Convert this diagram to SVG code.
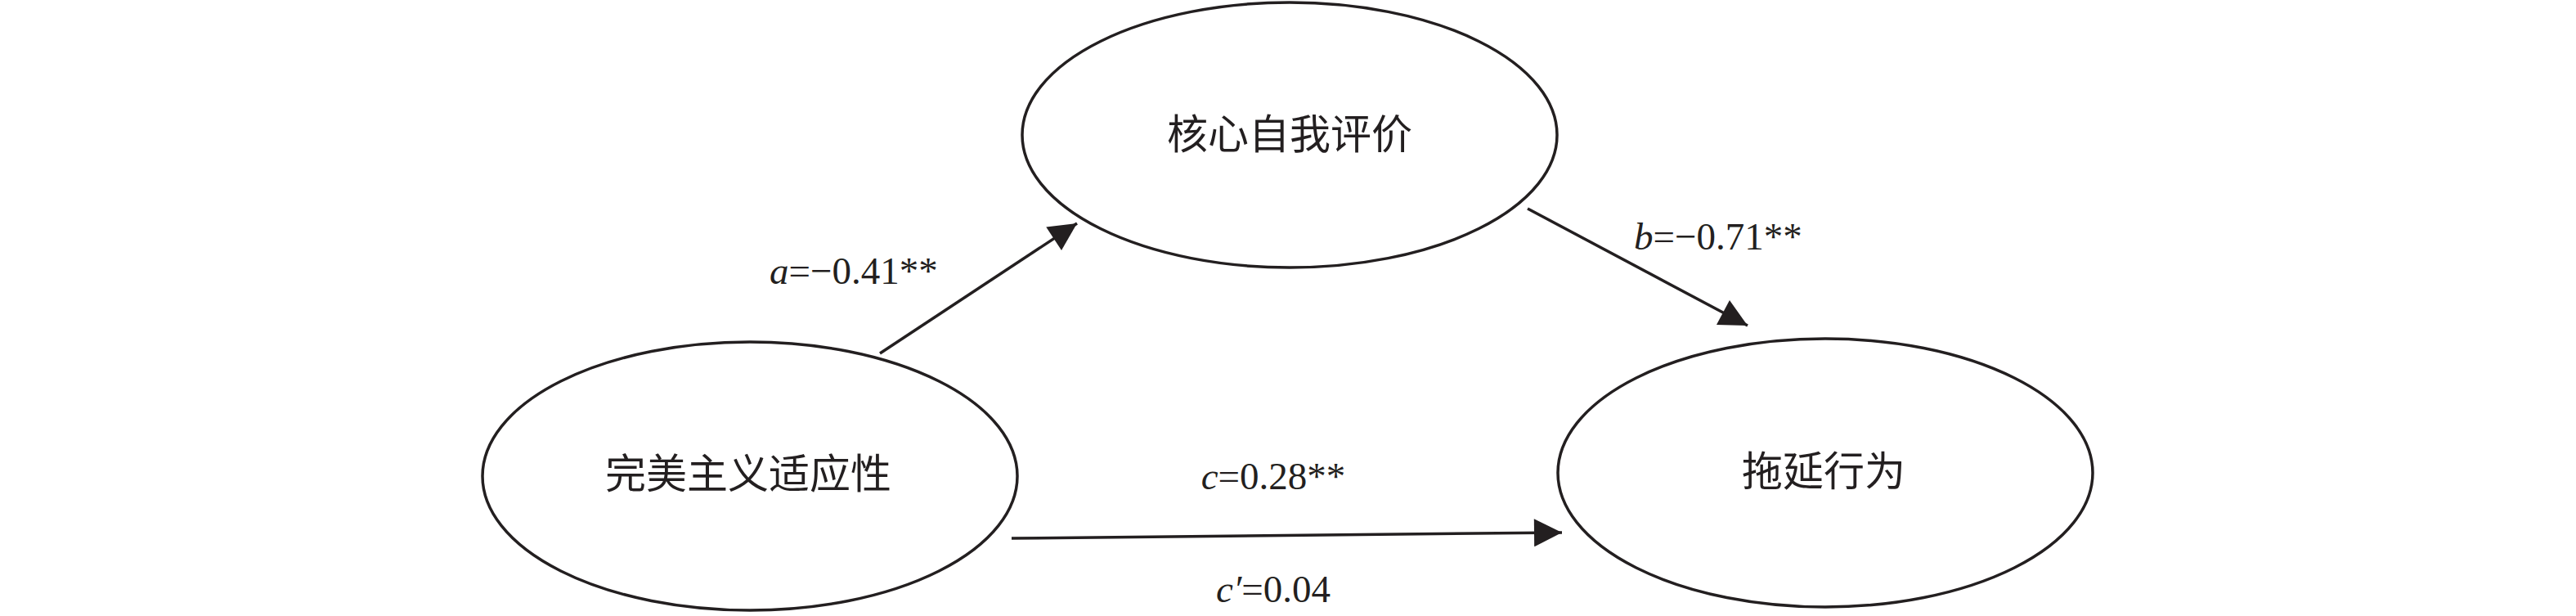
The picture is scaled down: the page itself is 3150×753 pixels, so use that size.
<svg xmlns="http://www.w3.org/2000/svg" width="3150" height="753" viewBox="0 0 3150 753">
<style>
ellipse{fill:#fff;stroke:#231f20;stroke-width:3.5}
.cjk{font-family:"Noto Sans CJK SC",sans-serif;font-size:50px;fill:#231f20;text-anchor:middle}
.lbl{font-family:"Liberation Serif",serif;font-size:47px;fill:#231f20}
.it{font-style:italic}
.edge{stroke:#231f20;stroke-width:3.5;fill:none;marker-end:url(#arr)}
</style>
<defs>
<marker id="arr" viewBox="0 0 10 10" refX="10" refY="5" markerUnits="userSpaceOnUse" markerWidth="36" markerHeight="34" orient="auto">
<path d="M0,0 L10,5 L0,10 z" fill="#231f20"/>
</marker>
</defs>
<rect width="3150" height="753" fill="#fff"/>
<g id="node-core">
<ellipse cx="1577" cy="165" rx="327" ry="162"/>
<text class="cjk" x="1577" y="182">核心自我评价</text>
</g>
<g id="node-perf">
<ellipse cx="917" cy="582" rx="327" ry="164"/>
<text class="cjk" x="915" y="597">完美主义适应性</text>
</g>
<g id="node-proc">
<ellipse cx="2232" cy="578" rx="327" ry="164"/>
<text class="cjk" x="2230" y="594">拖延行为</text>
</g>
<g id="connectors">
<line class="edge" x1="1076" y1="432" x2="1317" y2="273"/>
<line class="edge" x1="1868" y1="255" x2="2137" y2="398"/>
<line class="edge" x1="1237" y1="658" x2="1910" y2="651"/>
</g>
<g id="labels">
<text class="lbl" x="941" y="347"><tspan class="it">a</tspan>=−0.41**</text>
<text class="lbl" x="1998" y="305"><tspan class="it">b</tspan>=−0.71**</text>
<text class="lbl" x="1557" y="598" text-anchor="middle"><tspan class="it">c</tspan>=0.28**</text>
<text class="lbl" x="1557" y="736" text-anchor="middle"><tspan class="it">c′</tspan>=0.04</text>
</g>
</svg>
